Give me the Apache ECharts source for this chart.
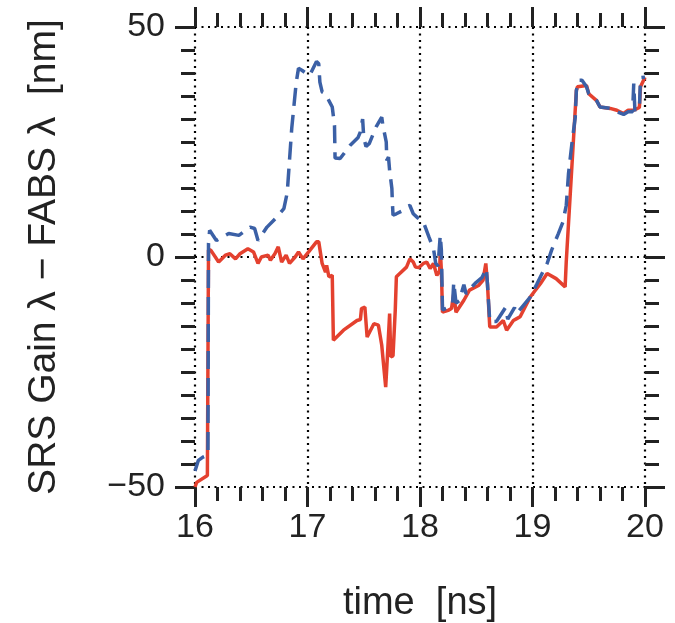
<!DOCTYPE html>
<html>
<head>
<meta charset="utf-8">
<script src="https://cdn.jsdelivr.net/npm/echarts@6.0.0/dist/echarts.min.js"></script>
<style>
  html, body { margin: 0; padding: 0; background: #fff; }
  #chart { width: 675px; height: 623px; }
</style>
</head>
<body>
<div id="chart"></div>
<script>
// SRS Gain λ − FABS λ vs time
const xTicks = [16, 17, 18, 19, 20]
const yTicks = [-50, 0, 50]

// red solid curve
const redTime = [
  16.00, 16.015, 16.11, 16.12, 16.14, 16.21, 16.27, 16.31, 16.36, 16.40,
  16.47, 16.52, 16.56, 16.59, 16.65, 16.67, 16.71, 16.74, 16.77, 16.81,
  16.84, 16.89, 16.92, 16.96, 17.01, 17.08, 17.10, 17.13, 17.16, 17.17,
  17.19, 17.22, 17.23, 17.32, 17.44, 17.47, 17.48, 17.51, 17.53, 17.59,
  17.63, 17.66, 17.695, 17.71, 17.73, 17.74, 17.76, 17.78, 17.79, 17.82,
  17.88, 17.91, 17.94, 17.96, 17.99, 18.03, 18.06, 18.09, 18.12, 18.15,
  18.175, 18.18, 18.19, 18.20, 18.25, 18.28, 18.30, 18.32, 18.39, 18.44,
  18.52, 18.56, 18.585, 18.60, 18.62, 18.68, 18.74, 18.77, 18.83, 18.86,
  18.89, 18.98, 19.07, 19.13, 19.21, 19.29, 19.30, 19.39, 19.40, 19.48,
  19.50, 19.57, 19.60, 19.69, 19.75, 19.81, 19.85, 19.90, 19.95, 19.96,
  20.00
]
const redValue = [
  -50, -49, -47.5, 1.5, 1.5, -1.1, 0.4, 0.7, -0.4, 0.7,
  1.8, 1.1, -1.4, 0, 0.4, -0.7, 0.7, 2.2, -1.1, 0.4,
  -1.4, 0, 1.1, -0.4, 1.1, 3.3, 3.3, -1.4, -3.3, -1.8,
  -4.3, -4.0, -18.1, -15.9, -13.8, -13.6, -11.2, -10.9, -17.4, -14.5,
  -14.8, -19.2, -28.3, -21.7, -12.3, -21.7, -21.5, -11.6, -4.3, -3.6,
  -2.2, -0.4, -1.1, -2.2, -2.3, -1.4, -1.1, -2.5, -1.4, -4.0,
  -3.0, 1.8, -3.0, -12.0, -11.6, -11.2, -8.0, -12.0, -9.4, -7.2,
  -6.2, -5.1, -1.4, -6.0, -15.2, -15.2, -13.8, -15.9, -13.8, -13.4,
  -13.0, -8.7, -5.8, -3.6, -4.7, -6.5, -1.0, 36.2, 37.0, 37.3,
  35.5, 34.0, 32.6, 32.3, 31.9, 31.2, 31.9, 31.9, 32.5, 37.0,
  39.1
]

// blue dashed curve
const blueTime = [
  16.00, 16.03, 16.07, 16.115, 16.12, 16.13, 16.19, 16.30, 16.39, 16.49,
  16.53, 16.56, 16.64, 16.72, 16.79, 16.82, 16.86, 16.90, 16.92, 16.95,
  16.99, 17.02, 17.08, 17.10, 17.11, 17.13, 17.16, 17.19, 17.22, 17.24,
  17.245, 17.29, 17.38, 17.45, 17.47, 17.49, 17.50, 17.52, 17.55, 17.61,
  17.66, 17.67, 17.70, 17.705, 17.72, 17.73, 17.75, 17.755, 17.76, 17.79,
  17.84, 17.88, 17.91, 17.94, 17.98, 18.03, 18.08, 18.12, 18.14, 18.16,
  18.175, 18.18, 18.19, 18.20, 18.25, 18.29, 18.30, 18.32, 18.35, 18.39,
  18.41, 18.46, 18.50, 18.55, 18.59, 18.60, 18.62, 18.68, 18.72, 18.76,
  18.78, 18.84, 18.86, 18.92, 18.98, 19.04, 19.13, 19.17, 19.23, 19.27,
  19.30, 19.32, 19.35, 19.38, 19.39, 19.41, 19.44, 19.48, 19.50, 19.57,
  19.60, 19.69, 19.75, 19.81, 19.85, 19.89, 19.90, 19.91, 19.95, 19.96,
  20.00
]
const blueValue = [
  -46.5, -44.2, -43.5, -43, 2.9, 5.8, 3.6, 5.1, 4.7, 6.5,
  6.2, 3.6, 6.5, 8.5, 10.5, 14, 28, 38, 41, 40.6,
  39.9, 39.5, 42.5, 42, 38, 35.9, 35.5, 34, 32.6, 28.6,
  21.5, 21.4, 24.3, 26, 27.2, 30, 26, 24, 24.7, 28.3,
  30.4, 28.6, 25, 21, 21.7, 18.8, 14.9, 11.6, 9.1, 9.4,
  10, 10.9, 11.2, 9.4, 8.5, 7.6, 4.3, 1.8, -1.4, -2,
  -2, 4.7, 1.5, -11.5, -11, -10, -5.5, -10, -9.5, -6,
  -8, -6.5, -5.5, -4.5, -2.5, -6, -14, -14, -12.5, -11,
  -13.5, -11, -12.3, -10.5, -8.7, -5.8, -1.4, 1.5, 5.1, 7.6,
  11.2, 18.1, 24.6, 30.4, 36.2, 38.4, 38.4, 37, 35.5, 34,
  32.6, 32.3, 31.6, 31, 31.6, 31.6, 37.7, 32, 32, 39,
  39.1
]

const redData = redTime.map((t, i) => [t, redValue[i]])
const blueData = blueTime.map((t, i) => [t, blueValue[i]])

const FONT = 'Liberation Sans'
const INK = '#222'

const tickStyle = { color: INK, width: 3 }
const dotted = { color: '#000', width: 2.2, type: [2, 4.5] }

function minusFmt(v) {
  return v < 0 ? '\u2212' + (-v) : String(v)
}

function xAxisOf(pos, main) {
  return {
    type: 'value',
    position: pos,
    min: xTicks[0],
    max: xTicks[xTicks.length - 1],
    interval: 1,
    axisLine: { show: false, onZero: false },
    axisTick: { show: true, length: 20, lineStyle: tickStyle },
    minorTick: { show: true, splitNumber: 5, length: 14, lineStyle: tickStyle },
    axisLabel: {
      show: main, margin: 24, color: INK, fontFamily: FONT, fontSize: 34,
      formatter: minusFmt
    },
    splitLine: { show: main, lineStyle: dotted },
    name: main ? 'time  [ns]' : '',
    nameLocation: 'middle',
    nameGap: 98,
    nameTextStyle: { color: INK, fontFamily: FONT, fontSize: 38 }
  }
}

function yAxisOf(pos, main) {
  return {
    type: 'value',
    position: pos,
    min: yTicks[0],
    max: yTicks[yTicks.length - 1],
    interval: 50,
    axisLine: { show: false, onZero: false },
    axisTick: { show: true, length: 20, lineStyle: tickStyle },
    minorTick: { show: true, splitNumber: 10, length: 14, lineStyle: tickStyle },
    axisLabel: {
      show: main, margin: 30, color: INK, fontFamily: FONT, fontSize: 34,
      formatter: minusFmt
    },
    splitLine: { show: main, lineStyle: dotted },
    name: main ? 'SRS Gain \u03bb \u2212 FABS \u03bb  [nm]' : '',
    nameLocation: 'middle',
    nameGap: 131,
    nameTextStyle: { color: INK, fontFamily: FONT, fontSize: 39 }
  }
}

const chart = echarts.init(document.getElementById('chart'), null, { renderer: 'canvas' })

chart.setOption({
  backgroundColor: '#fff',
  animation: false,
  grid: { left: 195, right: 30, top: 27, bottom: 136, containLabel: false, outerBoundsMode: 'none' },
  xAxis: [xAxisOf('bottom', true), xAxisOf('top', false)],
  yAxis: [yAxisOf('left', true), yAxisOf('right', false)],
  series: [
    {
      name: 'red',
      type: 'line',
      data: redData,
      showSymbol: false,
      lineStyle: { color: '#e4412f', width: 3.5 },
      z: 3
    },
    {
      name: 'blue',
      type: 'line',
      data: blueData,
      showSymbol: false,
      lineStyle: { color: '#3b60a6', width: 3.5, type: [18, 9] },
      z: 4
    }
  ]
})
</script>
</body>
</html>
